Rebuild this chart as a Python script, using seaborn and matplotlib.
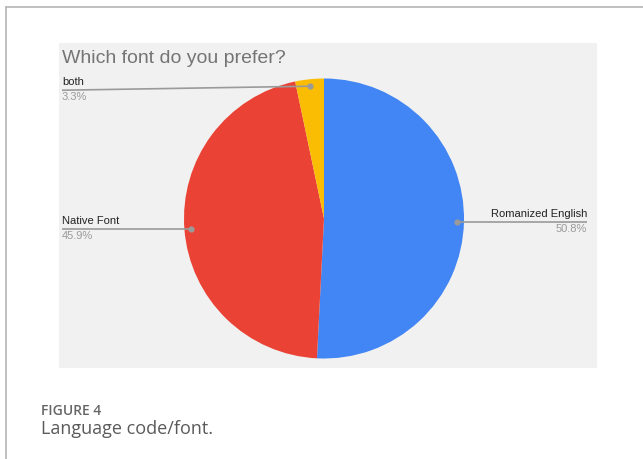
import numpy as np
import matplotlib
matplotlib.use("Agg")
import matplotlib.pyplot as plt
import seaborn as sns
from matplotlib.patches import Rectangle
from matplotlib.lines import Line2D

# chart data
labels = ["Romanized English", "Native Font", "both"]
shares = [50.8, 45.9, 3.3]
colors = ["#4285F4", "#EA4335", "#FBBC04"]
title = "Which font do you prefer?"
fig_label = "FIGURE 4"
caption = "Language code/font."

sns.set_theme(style="white")
plt.rcParams["font.family"] = ["Liberation Sans", "DejaVu Sans"]

W, H = 643, 459
fig = plt.figure(figsize=(W / 100, H / 100), dpi=100)
fig.patch.set_facecolor("white")

# frame lines on the left and top of the figure box
fig.add_artist(Line2D([6 / W, 6 / W], [0, 1 - 7 / H], transform=fig.transFigure, color="#b5b5b5", lw=1.2))
fig.add_artist(Line2D([6 / W, 1], [1 - 7 / H, 1 - 7 / H], transform=fig.transFigure, color="#b5b5b5", lw=1.2))

# grey chart panel
fig.add_artist(Rectangle((59 / W, 1 - 368 / H), 538 / W, 325 / H, transform=fig.transFigure,
                         facecolor="#f1f1f1", edgecolor="none", zorder=0))

fig.text(62 / W, 1 - 63 / H, title, fontsize=14, color="#757575", va="baseline", ha="left")

# pie axes: centre at (324, 218.5) px, radius 140 px
cx, cy, r = 324, 218.5, 140
ax = fig.add_axes([(cx - r) / W, (H - cy - r) / H, 2 * r / W, 2 * r / H])
wedges, _ = ax.pie(shares, colors=colors, startangle=90, counterclock=False,
                   wedgeprops=dict(linewidth=0))
ax.set_xlim(-1, 1)
ax.set_ylim(-1, 1)
ax.set_aspect("equal")
ax.set_facecolor("none")
ax.axis("off")

px = 1 / r  # one pixel in data units
left_x = (62 - cx) / r
right_x = (587 - cx) / r
label_shift = [0, 0, 4]  # small slice label sits a few px lower than its dot
for w, lab, val, shift in zip(wedges, labels, shares, label_shift):
    mid = np.deg2rad((w.theta1 + w.theta2) / 2)
    dx, dy = 0.95 * np.cos(mid), 0.95 * np.sin(mid)
    end_x = right_x if dx > 0 else left_x
    end_y = dy - shift * px
    ha = "right" if dx > 0 else "left"
    ax.plot([dx, end_x], [dy, end_y], color="#9a9a9a", lw=1.2, clip_on=False, solid_capstyle="butt")
    ax.plot(dx, dy, "o", color="#9a9a9a", ms=3.5, clip_on=False)
    ax.text(end_x, end_y + 3 * px, lab, fontsize=8, color="#222222", ha=ha, va="bottom", clip_on=False)
    ax.text(end_x, end_y - 2 * px, f"{val:.1f}%", fontsize=8, color="#9a9a9a", ha=ha, va="top", clip_on=False)

# figure caption
fig.text(41 / W, 1 - 415 / H, fig_label, fontsize=10, color="#666666", fontweight="semibold",
         family=["Open Sans", "DejaVu Sans"], va="baseline")
fig.text(41 / W, 1 - 434 / H, caption, fontsize=13, color="#5a5a5a",
         family=["Open Sans", "DejaVu Sans"], va="baseline")

fig.savefig("out.png", dpi=100)
